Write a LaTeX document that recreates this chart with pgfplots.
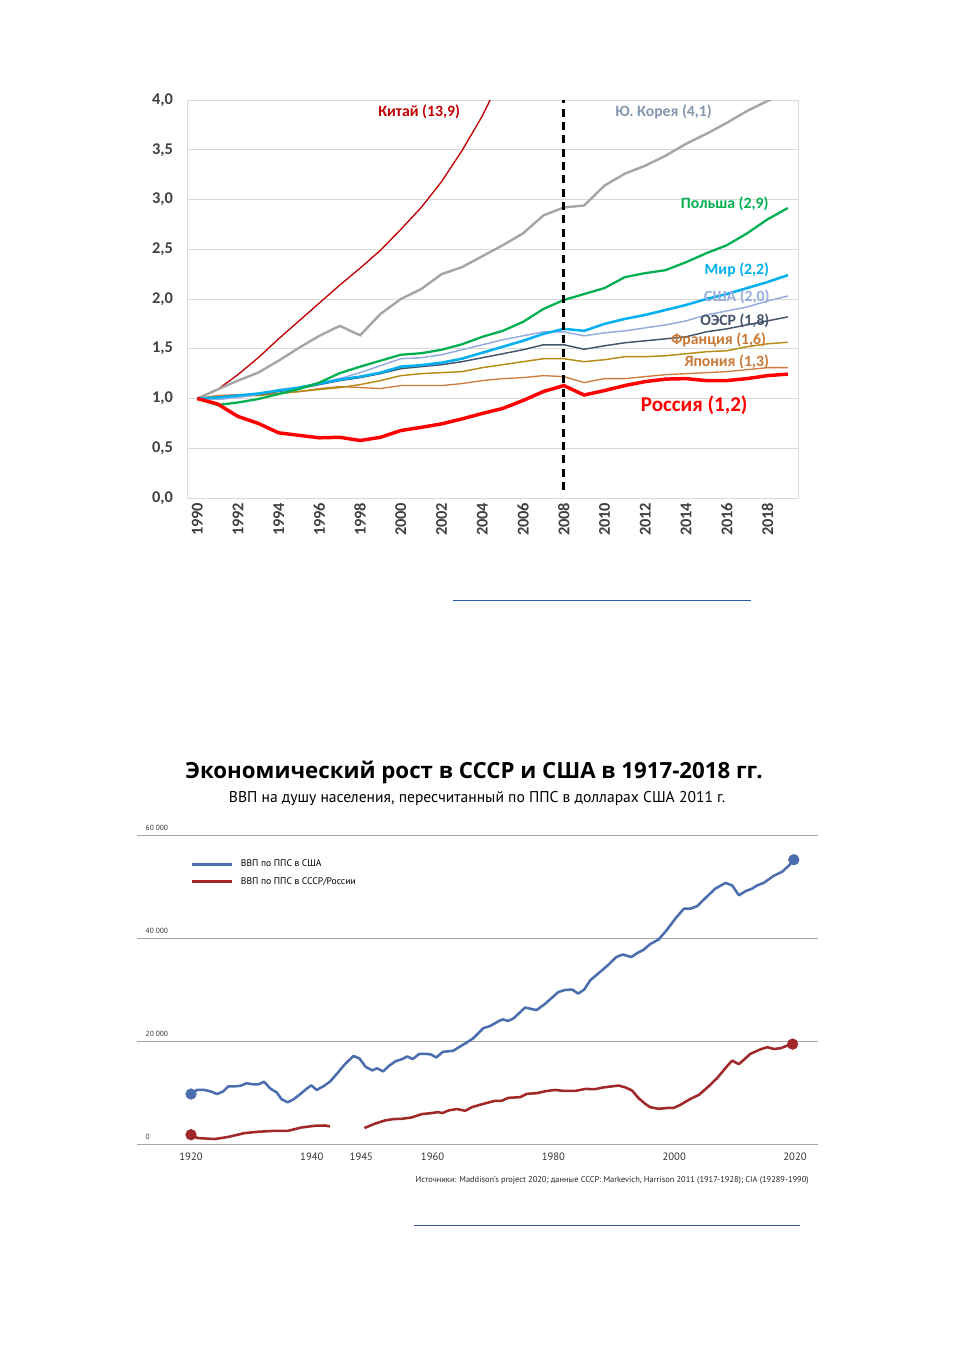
\documentclass[border=0pt]{standalone}
\usepackage{fontspec}
\setmainfont{Carlito}
\newfontfamily\ptsans{PT Sans}
\newfontfamily\opensans{Open Sans}
\usepackage{pgfplots}
\pgfplotsset{compat=1.18}

\definecolor{gridgray}{RGB}{217,217,217}
\definecolor{ticktext}{RGB}{64,64,64}
\definecolor{chinaC}{RGB}{192,0,0}
\definecolor{koreaC}{RGB}{165,165,165}
\definecolor{koreaL}{RGB}{132,151,176}
\definecolor{polandC}{RGB}{0,176,80}
\definecolor{worldC}{RGB}{0,176,240}
\definecolor{usaC}{RGB}{150,172,222}
\definecolor{oecdC}{RGB}{68,84,106}
\definecolor{franceC}{RGB}{184,140,20}
\definecolor{japanC}{RGB}{208,124,60}
\definecolor{labelO}{RGB}{200,120,55}
\definecolor{russiaC}{RGB}{255,0,0}
\definecolor{botgrid}{RGB}{166,166,166}
\definecolor{usblue}{RGB}{74,110,174}
\definecolor{ussrred}{RGB}{160,40,40}
\definecolor{linkblue}{RGB}{46,92,160}

\begin{document}
\begin{tikzpicture}
\begin{scope}[x=0.75pt,y=-0.75pt]
\fill[white] (0,0) rectangle (954,1350);
\path[use as bounding box] (0,0) rectangle (954,1350);
\draw[linkblue, line width=0.75pt] (453,600) -- (751,600);
\node[font=\opensans\bfseries\fontsize{16.7}{20}\selectfont] at (474,772) {Экономический рост в СССР и США в 1917-2018 гг.};
\node[font=\ptsans\fontsize{11.7}{14}\selectfont] at (477,799) {ВВП на душу населения, пересчитанный по ППС в долларах США 2011 г.};
\node[anchor=east, inner sep=0pt, font=\ptsans\fontsize{6.3}{7}\selectfont, color=black!85] at (809,1180) {Источники: Maddison’s project 2020; данные СССР: Markevich, Harrison 2011 (1917-1928); CIA (19289-1990)};
\draw[linkblue, line width=0.75pt] (414,1225) -- (800,1225);
\end{scope}

% ---------------- top chart ----------------
\begin{axis}[
  at={(140.25pt,-373.5pt)}, anchor=south west, scale only axis,
  width=458.25pt, height=298.5pt,
  xmin=1989.5, xmax=2019.5, ymin=0, ymax=4,
  xtick={1990,1992,...,2018}, ytick={0,0.5,...,4},
  ymajorgrids, grid style={color=gridgray, line width=0.75pt},
  axis line style={color=gridgray, line width=0.75pt},
  major tick length=0pt,
  /pgf/number format/assume math mode=true,
  tick label style={font=\bfseries\fontsize{12.3}{14}\selectfont, color=ticktext},
  x tick label style={rotate=90, anchor=east, /pgf/number format/1000 sep={}},
  y tick label style={/pgf/number format/fixed, /pgf/number format/fixed zerofill,
     /pgf/number format/precision=1, /pgf/number format/use comma, xshift=-7pt},
]
% China
\addplot[chinaC, line width=1pt] coordinates {
(1990,1.00) (1991,1.09) (1992,1.24) (1993,1.41) (1994,1.60) (1995,1.78) (1996,1.96)
(1997,2.14) (1998,2.31) (1999,2.49) (2000,2.70) (2001,2.92) (2002,3.18) (2003,3.49)
(2004,3.84) (2005,4.26)};
% Korea
\addplot[koreaC, line width=1.8pt] coordinates {
(1990,1.00) (1991,1.09) (1992,1.18) (1993,1.26) (1994,1.38) (1995,1.51) (1996,1.63)
(1997,1.73) (1998,1.635) (1999,1.85) (2000,2.00) (2001,2.10) (2002,2.25) (2003,2.32)
(2004,2.43) (2005,2.54) (2006,2.66) (2007,2.84) (2008,2.92) (2009,2.94) (2010,3.14)
(2011,3.26) (2012,3.34) (2013,3.44) (2014,3.56) (2015,3.66) (2016,3.77) (2017,3.89)
(2018,3.99) (2019,4.08)};
% Japan
\addplot[japanC, line width=1pt] coordinates {
(1990,1.00) (1991,1.03) (1992,1.04) (1993,1.04) (1994,1.05) (1995,1.07) (1996,1.10)
(1997,1.12) (1998,1.11) (1999,1.10) (2000,1.13) (2001,1.13) (2002,1.13) (2003,1.15)
(2004,1.18) (2005,1.20) (2006,1.21) (2007,1.23) (2008,1.22) (2009,1.16) (2010,1.20)
(2011,1.20) (2012,1.22) (2013,1.24) (2014,1.25) (2015,1.26) (2016,1.27) (2017,1.29)
(2018,1.31) (2019,1.31)};
% France
\addplot[franceC, line width=1.1pt] coordinates {
(1990,1.00) (1991,1.02) (1992,1.03) (1993,1.03) (1994,1.05) (1995,1.07) (1996,1.09)
(1997,1.11) (1998,1.14) (1999,1.18) (2000,1.23) (2001,1.25) (2002,1.26) (2003,1.27)
(2004,1.31) (2005,1.34) (2006,1.37) (2007,1.40) (2008,1.40) (2009,1.37) (2010,1.39)
(2011,1.42) (2012,1.42) (2013,1.43) (2014,1.45) (2015,1.47) (2016,1.48) (2017,1.52)
(2018,1.55) (2019,1.565)};
% OECD
\addplot[oecdC, line width=1.1pt] coordinates {
(1990,1.00) (1991,1.01) (1992,1.03) (1993,1.04) (1994,1.07) (1995,1.10) (1996,1.14)
(1997,1.18) (1998,1.21) (1999,1.25) (2000,1.30) (2001,1.32) (2002,1.34) (2003,1.37)
(2004,1.41) (2005,1.45) (2006,1.49) (2007,1.54) (2008,1.54) (2009,1.495) (2010,1.53)
(2011,1.56) (2012,1.58) (2013,1.60) (2014,1.62) (2015,1.67) (2016,1.70) (2017,1.74)
(2018,1.78) (2019,1.82)};
% USA
\addplot[usaC, line width=1.1pt] coordinates {
(1990,1.00) (1991,0.99) (1992,1.01) (1993,1.04) (1994,1.09) (1995,1.11) (1996,1.15)
(1997,1.20) (1998,1.26) (1999,1.33) (2000,1.40) (2001,1.41) (2002,1.44) (2003,1.49)
(2004,1.54) (2005,1.59) (2006,1.63) (2007,1.67) (2008,1.67) (2009,1.63) (2010,1.66)
(2011,1.68) (2012,1.71) (2013,1.74) (2014,1.78) (2015,1.84) (2016,1.88) (2017,1.92)
(2018,1.98) (2019,2.03)};
% World
\addplot[worldC, line width=1.9pt] coordinates {
(1990,1.00) (1991,1.01) (1992,1.03) (1993,1.05) (1994,1.08) (1995,1.11) (1996,1.15)
(1997,1.19) (1998,1.22) (1999,1.26) (2000,1.32) (2001,1.335) (2002,1.36) (2003,1.40)
(2004,1.46) (2005,1.52) (2006,1.58) (2007,1.65) (2008,1.70) (2009,1.68) (2010,1.75)
(2011,1.80) (2012,1.84) (2013,1.89) (2014,1.94) (2015,2.00) (2016,2.05) (2017,2.11)
(2018,2.17) (2019,2.24)};
% Poland
\addplot[polandC, line width=1.7pt] coordinates {
(1990,1.00) (1991,0.935) (1992,0.96) (1993,0.995) (1994,1.045) (1995,1.095) (1996,1.16)
(1997,1.255) (1998,1.32) (1999,1.38) (2000,1.44) (2001,1.455) (2002,1.49) (2003,1.545)
(2004,1.62) (2005,1.68) (2006,1.77) (2007,1.90) (2008,1.99) (2009,2.05) (2010,2.11)
(2011,2.22) (2012,2.26) (2013,2.29) (2014,2.37) (2015,2.46) (2016,2.54) (2017,2.66)
(2018,2.80) (2019,2.915)};
% Russia
\addplot[russiaC, line width=2.6pt] coordinates {
(1990,1.00) (1991,0.945) (1992,0.82) (1993,0.75) (1994,0.655) (1995,0.63) (1996,0.605)
(1997,0.61) (1998,0.578) (1999,0.61) (2000,0.678) (2001,0.71) (2002,0.745) (2003,0.795)
(2004,0.85) (2005,0.90) (2006,0.98) (2007,1.07) (2008,1.13) (2009,1.035) (2010,1.08)
(2011,1.13) (2012,1.17) (2013,1.195) (2014,1.20) (2015,1.18) (2016,1.18) (2017,1.20)
(2018,1.23) (2019,1.245)};
% 2008 marker
\addplot[black, line width=2pt, dash pattern=on 6pt off 4pt] coordinates {(2008,0.08) (2008,4)};

\node[font=\bfseries\fontsize{11.8}{14}\selectfont, color=chinaC] at (axis cs:2000.9,3.88) {Китай (13,9)};
\node[font=\bfseries\fontsize{11.8}{14}\selectfont, color=koreaL] at (axis cs:2012.9,3.88) {Ю. Корея (4,1)};
\node[font=\bfseries\fontsize{11.8}{14}\selectfont, color=polandC] at (axis cs:2015.9,2.955) {Польша (2,9)};
\node[font=\bfseries\fontsize{11.8}{14}\selectfont, color=worldC] at (axis cs:2016.5,2.29) {Мир (2,2)};
\node[font=\bfseries\fontsize{11.8}{14}\selectfont, color=usaC] at (axis cs:2016.5,2.02) {США (2,0)};
\node[font=\bfseries\fontsize{11.8}{14}\selectfont, color=oecdC] at (axis cs:2016.4,1.78) {ОЭСР (1,8)};
\node[font=\bfseries\fontsize{11.8}{14}\selectfont, color=labelO] at (axis cs:2015.6,1.59) {Франция (1,6)};
\node[font=\bfseries\fontsize{11.8}{14}\selectfont, color=labelO] at (axis cs:2016.0,1.37) {Япония (1,3)};
\node[font=\bfseries\fontsize{15.8}{18}\selectfont, color=russiaC] at (axis cs:2014.4,0.93) {Россия (1,2)};
\end{axis}

% ---------------- bottom chart ----------------
\begin{axis}[
  at={(102.75pt,-858pt)}, anchor=south west, scale only axis,
  width=510.75pt, height=231.75pt,
  xmin=1911.06, xmax=2023.8, ymin=0, ymax=60000,
  xtick={1920,1940,1948.2,1960,1980,2000,2020},
  xticklabels={1920,1940,1945,1960,1980,2000,2020},
  ytick={0,20000,40000,60000}, yticklabels={0,20 000,40 000,60 000},
  scaled y ticks=false, scaled x ticks=false,
  ymajorgrids, grid style={color=botgrid, line width=0.75pt},
  axis line style={draw=none}, major tick length=0pt,
  /pgf/number format/assume math mode=true,
  x tick label style={font=\ptsans\fontsize{8}{10}\selectfont, color=black!80, yshift=-3pt},
  y tick label style={font=\ptsans\fontsize{5.6}{7}\selectfont, color=black!80, anchor=south west, xshift=3pt, yshift=0pt},
  legend style={draw=none, fill=none, at={(0.072,0.938)}, anchor=north west,
     font=\ptsans\fontsize{7.2}{8}\selectfont, row sep=2.5pt, cells={anchor=west}},
  legend image code/.code={\draw[#1, line width=2pt] (0pt,0pt) -- (30pt,0pt);},
  legend cell align=left,
  /tikz/every odd column/.append style={column sep=4pt},
]
\addplot[usblue, line width=1.9pt, line join=round] coordinates {
(1920,9700) (1921,10500) (1922.2,10500) (1923.3,10200) (1924.3,9700) (1925.3,10200)
(1926.2,11200) (1927.2,11200) (1928.2,11300) (1929.2,11800) (1930.3,11600) (1931.2,11600)
(1932.1,12100) (1933.1,10800) (1934.2,10000) (1935,8700) (1936,8100) (1937,8700)
(1938.1,9700) (1939,10600) (1939.9,11400) (1940.8,10500) (1941.9,11200) (1943,12100)
(1944.2,13700) (1945.4,15400) (1946.9,17100) (1947.9,16600) (1948.9,15000) (1950,14300)
(1950.8,14700) (1951.8,14100) (1952.8,15200) (1953.9,16100) (1955,16500) (1955.8,17000)
(1956.7,16500) (1957.8,17500) (1958.8,17500) (1959.7,17400) (1960.6,16800) (1961.7,17900)
(1963.4,18100) (1964.5,18900) (1965.5,19600) (1966.7,20500) (1968.4,22500) (1969.5,22900)
(1971.0,23900) (1971.6,24200) (1972.5,23900) (1973.4,24400) (1975.3,26500) (1977.2,26000)
(1978.6,27200) (1980.8,29500) (1981.9,29900) (1983.1,30000) (1984.1,29200) (1985.1,30000)
(1986.1,31800) (1987.5,33200) (1988.9,34600) (1990.4,36300) (1991.5,36800) (1992.9,36300)
(1993.9,37100) (1994.9,37700) (1996,38800) (1997.4,39700) (1998.8,41600) (2000.2,43800)
(2001.6,45700) (2002.7,45700) (2003.8,46200) (2005.2,47800) (2006.8,49600) (2008.5,50700)
(2009.6,50200) (2010.7,48300) (2011.8,49100) (2012.9,49600) (2013.7,50200) (2014.8,50700)
(2016.5,52100) (2017.9,52900) (2019,54100) (2019.8,55200)};
\addlegendentry{ВВП по ППС в США}
\addplot[ussrred, line width=1.9pt, line join=round] coordinates {
(1920,1800) (1921.1,1160) (1923.9,970) (1926.1,1360) (1928.9,2130) (1931.1,2380)
(1933.9,2570) (1936.1,2570) (1938.3,3210) (1940.5,3540) (1942.2,3600) (1943,3410)};
\addlegendentry{ВВП по ППС в СССР/России}
\addplot[ussrred, line width=1.9pt, line join=round, forget plot] coordinates {
(1948.7,3100) (1950.4,3930) (1952.1,4570) (1953.5,4840) (1954.9,4900) (1956.5,5150)
(1958.2,5810) (1959.8,6000) (1960.9,6200) (1961.6,6000) (1962.6,6500) (1964.0,6800)
(1965.4,6450) (1966.5,7160) (1968.4,7800) (1970.3,8380) (1971.4,8380) (1972.5,8960)
(1974.5,9100) (1975.6,9740) (1977.2,9870) (1978.9,10300) (1980.3,10500) (1981.7,10300)
(1983.6,10300) (1985.3,10700) (1986.9,10650) (1988.3,11000) (1990.8,11350) (1991.9,11000)
(1993,10400) (1994.1,8900) (1995.2,7800) (1996,7160) (1997.4,6830) (1999.1,7030)
(1999.9,7000) (2001,7600) (2002.7,8770) (2004.1,9550) (2005.7,11200) (2007.1,12800)
(2008.8,15200) (2009.6,16200) (2010.7,15500) (2012.6,17500) (2014.3,18400) (2015.4,18800)
(2016.5,18450) (2017.6,18600) (2018.7,19100) (2019.6,19400)};
\addplot[only marks, mark=*, mark size=4pt, color=usblue, forget plot] coordinates {(1920,9700) (2019.8,55200)};
\addplot[only marks, mark=*, mark size=4pt, color=ussrred, forget plot] coordinates {(1920,1800) (2019.6,19400)};
\end{axis}
\end{tikzpicture}
\end{document}
